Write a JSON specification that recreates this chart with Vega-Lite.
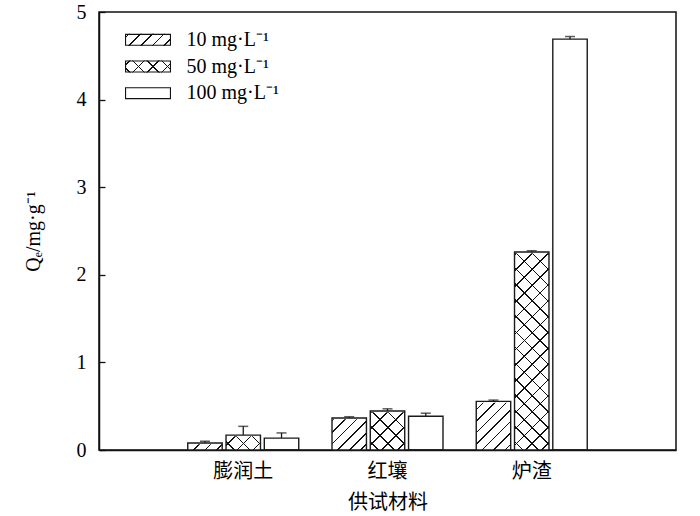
{
  "$schema": "https://vega.github.io/schema/vega-lite/v6.json",
  "autosize": {"type": "none"},
  "padding": {"left": 99, "top": 12, "right": 24, "bottom": 66},
  "width": 577,
  "height": 438,
  "background": "#ffffff",
  "config": {
    "font": "Liberation Serif, Noto Sans CJK SC",
    "view": {"stroke": "#111", "strokeWidth": 1.5},
    "axis": {"grid": false, "domainColor": "#111", "domainWidth": 1.5, "tickColor": "#111", "labelColor": "#000", "titleColor": "#000", "labelFont": "Liberation Serif, Noto Sans CJK SC", "titleFont": "Liberation Serif, Noto Sans CJK SC", "titleFontWeight": "normal"},
    "legend": {"title": null, "orient": "none", "legendX": 25.5, "padding": 0, "symbolType": "M-1,-0.26H1V0.26H-1Z", "symbolSize": 2116, "symbolStrokeWidth": 1, "labelFont": "Liberation Serif", "labelFontSize": 20, "labelColor": "#000", "labelOffset": 15}
  },
  "data": {
    "values": [
      {"material": "膨润土", "conc": "10 mg·L⁻¹", "value": 0.08, "upper": 0.1},
      {"material": "膨润土", "conc": "50 mg·L⁻¹", "value": 0.17, "upper": 0.27},
      {"material": "膨润土", "conc": "100 mg·L⁻¹", "value": 0.135, "upper": 0.195},
      {"material": "红壤", "conc": "10 mg·L⁻¹", "value": 0.365, "upper": 0.38},
      {"material": "红壤", "conc": "50 mg·L⁻¹", "value": 0.445, "upper": 0.47},
      {"material": "红壤", "conc": "100 mg·L⁻¹", "value": 0.385, "upper": 0.42},
      {"material": "炉渣", "conc": "10 mg·L⁻¹", "value": 0.555, "upper": 0.57},
      {"material": "炉渣", "conc": "50 mg·L⁻¹", "value": 2.26, "upper": 2.275},
      {"material": "炉渣", "conc": "100 mg·L⁻¹", "value": 4.69, "upper": 4.72}
    ]
  },
  "encoding": {
    "x": {
      "field": "material", "type": "nominal",
      "scale": {"domain": ["膨润土", "红壤", "炉渣"], "paddingInner": 0.2305, "paddingOuter": 0.6153},
      "axis": {"title": "供试材料", "labelAngle": 0, "ticks": false, "labelFontSize": 20, "titleFontSize": 20, "labelPadding": 11, "titlePadding": 11}
    },
    "xOffset": {
      "field": "conc", "type": "nominal",
      "scale": {"domain": ["10 mg·L⁻¹", "50 mg·L⁻¹", "100 mg·L⁻¹"], "paddingInner": 0.1, "paddingOuter": 0}
    }
  },
  "layer": [
    {
      "transform": [{"filter": "datum.conc === '10 mg·L⁻¹'"}],
      "mark": {"type": "bar", "fill": {"gradient": "linear", "x1": 0, "y1": 0, "x2": 0.1777, "y2": 1.1294, "stops": [
        {"offset": 0, "color": "#fff"},
        {"offset": 0.02, "color": "#fff"}, {"offset": 0.02, "color": "#111"}, {"offset": 0.026, "color": "#111"}, {"offset": 0.026, "color": "#fff"},
        {"offset": 0.0655, "color": "#fff"}, {"offset": 0.0655, "color": "#111"}, {"offset": 0.0715, "color": "#111"}, {"offset": 0.0715, "color": "#fff"},
        {"offset": 0.1109, "color": "#fff"}, {"offset": 0.1109, "color": "#111"}, {"offset": 0.1169, "color": "#111"}, {"offset": 0.1169, "color": "#fff"},
        {"offset": 0.1564, "color": "#fff"}, {"offset": 0.1564, "color": "#111"}, {"offset": 0.1624, "color": "#111"}, {"offset": 0.1624, "color": "#fff"},
        {"offset": 0.2018, "color": "#fff"}, {"offset": 0.2018, "color": "#111"}, {"offset": 0.2078, "color": "#111"}, {"offset": 0.2078, "color": "#fff"},
        {"offset": 0.2473, "color": "#fff"}, {"offset": 0.2473, "color": "#111"}, {"offset": 0.2533, "color": "#111"}, {"offset": 0.2533, "color": "#fff"},
        {"offset": 0.2927, "color": "#fff"}, {"offset": 0.2927, "color": "#111"}, {"offset": 0.2987, "color": "#111"}, {"offset": 0.2987, "color": "#fff"},
        {"offset": 0.3382, "color": "#fff"}, {"offset": 0.3382, "color": "#111"}, {"offset": 0.3442, "color": "#111"}, {"offset": 0.3442, "color": "#fff"},
        {"offset": 0.3836, "color": "#fff"}, {"offset": 0.3836, "color": "#111"}, {"offset": 0.3896, "color": "#111"}, {"offset": 0.3896, "color": "#fff"},
        {"offset": 0.4291, "color": "#fff"}, {"offset": 0.4291, "color": "#111"}, {"offset": 0.4351, "color": "#111"}, {"offset": 0.4351, "color": "#fff"},
        {"offset": 0.4745, "color": "#fff"}, {"offset": 0.4745, "color": "#111"}, {"offset": 0.4805, "color": "#111"}, {"offset": 0.4805, "color": "#fff"},
        {"offset": 0.52, "color": "#fff"}, {"offset": 0.52, "color": "#111"}, {"offset": 0.526, "color": "#111"}, {"offset": 0.526, "color": "#fff"},
        {"offset": 0.5655, "color": "#fff"}, {"offset": 0.5655, "color": "#111"}, {"offset": 0.5715, "color": "#111"}, {"offset": 0.5715, "color": "#fff"},
        {"offset": 0.6109, "color": "#fff"}, {"offset": 0.6109, "color": "#111"}, {"offset": 0.6169, "color": "#111"}, {"offset": 0.6169, "color": "#fff"},
        {"offset": 0.6564, "color": "#fff"}, {"offset": 0.6564, "color": "#111"}, {"offset": 0.6624, "color": "#111"}, {"offset": 0.6624, "color": "#fff"},
        {"offset": 0.7018, "color": "#fff"}, {"offset": 0.7018, "color": "#111"}, {"offset": 0.7078, "color": "#111"}, {"offset": 0.7078, "color": "#fff"},
        {"offset": 0.7473, "color": "#fff"}, {"offset": 0.7473, "color": "#111"}, {"offset": 0.7533, "color": "#111"}, {"offset": 0.7533, "color": "#fff"},
        {"offset": 0.7927, "color": "#fff"}, {"offset": 0.7927, "color": "#111"}, {"offset": 0.7987, "color": "#111"}, {"offset": 0.7987, "color": "#fff"},
        {"offset": 0.8382, "color": "#fff"}, {"offset": 0.8382, "color": "#111"}, {"offset": 0.8442, "color": "#111"}, {"offset": 0.8442, "color": "#fff"},
        {"offset": 0.8836, "color": "#fff"}, {"offset": 0.8836, "color": "#111"}, {"offset": 0.8896, "color": "#111"}, {"offset": 0.8896, "color": "#fff"},
        {"offset": 0.9291, "color": "#fff"}, {"offset": 0.9291, "color": "#111"}, {"offset": 0.9351, "color": "#111"}, {"offset": 0.9351, "color": "#fff"},
        {"offset": 0.9745, "color": "#fff"}, {"offset": 0.9745, "color": "#111"}, {"offset": 0.9805, "color": "#111"}, {"offset": 0.9805, "color": "#fff"},
        {"offset": 1, "color": "#fff"}
      ]}},
      "encoding": {"y": {"datum": 2.5}, "y2": {"datum": 0}}
    },
    {
      "transform": [{"filter": "datum.conc === '50 mg·L⁻¹'"}],
      "mark": {"type": "bar", "fill": {"gradient": "linear", "x1": 0, "y1": 0, "x2": 0.1777, "y2": 1.1294, "stops": [
        {"offset": 0, "color": "#fff"},
        {"offset": 0.03, "color": "#fff"}, {"offset": 0.03, "color": "#111"}, {"offset": 0.036, "color": "#111"}, {"offset": 0.036, "color": "#fff"},
        {"offset": 0.0925, "color": "#fff"}, {"offset": 0.0925, "color": "#111"}, {"offset": 0.0985, "color": "#111"}, {"offset": 0.0985, "color": "#fff"},
        {"offset": 0.155, "color": "#fff"}, {"offset": 0.155, "color": "#111"}, {"offset": 0.161, "color": "#111"}, {"offset": 0.161, "color": "#fff"},
        {"offset": 0.2175, "color": "#fff"}, {"offset": 0.2175, "color": "#111"}, {"offset": 0.2235, "color": "#111"}, {"offset": 0.2235, "color": "#fff"},
        {"offset": 0.28, "color": "#fff"}, {"offset": 0.28, "color": "#111"}, {"offset": 0.286, "color": "#111"}, {"offset": 0.286, "color": "#fff"},
        {"offset": 0.3425, "color": "#fff"}, {"offset": 0.3425, "color": "#111"}, {"offset": 0.3485, "color": "#111"}, {"offset": 0.3485, "color": "#fff"},
        {"offset": 0.405, "color": "#fff"}, {"offset": 0.405, "color": "#111"}, {"offset": 0.411, "color": "#111"}, {"offset": 0.411, "color": "#fff"},
        {"offset": 0.4675, "color": "#fff"}, {"offset": 0.4675, "color": "#111"}, {"offset": 0.4735, "color": "#111"}, {"offset": 0.4735, "color": "#fff"},
        {"offset": 0.53, "color": "#fff"}, {"offset": 0.53, "color": "#111"}, {"offset": 0.536, "color": "#111"}, {"offset": 0.536, "color": "#fff"},
        {"offset": 0.5925, "color": "#fff"}, {"offset": 0.5925, "color": "#111"}, {"offset": 0.5985, "color": "#111"}, {"offset": 0.5985, "color": "#fff"},
        {"offset": 0.655, "color": "#fff"}, {"offset": 0.655, "color": "#111"}, {"offset": 0.661, "color": "#111"}, {"offset": 0.661, "color": "#fff"},
        {"offset": 0.7175, "color": "#fff"}, {"offset": 0.7175, "color": "#111"}, {"offset": 0.7235, "color": "#111"}, {"offset": 0.7235, "color": "#fff"},
        {"offset": 0.78, "color": "#fff"}, {"offset": 0.78, "color": "#111"}, {"offset": 0.786, "color": "#111"}, {"offset": 0.786, "color": "#fff"},
        {"offset": 0.8425, "color": "#fff"}, {"offset": 0.8425, "color": "#111"}, {"offset": 0.8485, "color": "#111"}, {"offset": 0.8485, "color": "#fff"},
        {"offset": 0.905, "color": "#fff"}, {"offset": 0.905, "color": "#111"}, {"offset": 0.911, "color": "#111"}, {"offset": 0.911, "color": "#fff"},
        {"offset": 0.9675, "color": "#fff"}, {"offset": 0.9675, "color": "#111"}, {"offset": 0.9735, "color": "#111"}, {"offset": 0.9735, "color": "#fff"},
        {"offset": 1, "color": "#fff"}
      ]}},
      "encoding": {"y": {"datum": 2.5}, "y2": {"datum": 0}}
    },
    {
      "transform": [{"filter": "datum.conc === '50 mg·L⁻¹'"}],
      "mark": {"type": "bar", "fill": {"gradient": "linear", "x1": 0, "y1": 1, "x2": 0.1777, "y2": -0.1294, "stops": [
        {"offset": 0, "color": "rgba(0,0,0,0)"},
        {"offset": 0.03, "color": "rgba(0,0,0,0)"}, {"offset": 0.03, "color": "#111"}, {"offset": 0.036, "color": "#111"}, {"offset": 0.036, "color": "rgba(0,0,0,0)"},
        {"offset": 0.0925, "color": "rgba(0,0,0,0)"}, {"offset": 0.0925, "color": "#111"}, {"offset": 0.0985, "color": "#111"}, {"offset": 0.0985, "color": "rgba(0,0,0,0)"},
        {"offset": 0.155, "color": "rgba(0,0,0,0)"}, {"offset": 0.155, "color": "#111"}, {"offset": 0.161, "color": "#111"}, {"offset": 0.161, "color": "rgba(0,0,0,0)"},
        {"offset": 0.2175, "color": "rgba(0,0,0,0)"}, {"offset": 0.2175, "color": "#111"}, {"offset": 0.2235, "color": "#111"}, {"offset": 0.2235, "color": "rgba(0,0,0,0)"},
        {"offset": 0.28, "color": "rgba(0,0,0,0)"}, {"offset": 0.28, "color": "#111"}, {"offset": 0.286, "color": "#111"}, {"offset": 0.286, "color": "rgba(0,0,0,0)"},
        {"offset": 0.3425, "color": "rgba(0,0,0,0)"}, {"offset": 0.3425, "color": "#111"}, {"offset": 0.3485, "color": "#111"}, {"offset": 0.3485, "color": "rgba(0,0,0,0)"},
        {"offset": 0.405, "color": "rgba(0,0,0,0)"}, {"offset": 0.405, "color": "#111"}, {"offset": 0.411, "color": "#111"}, {"offset": 0.411, "color": "rgba(0,0,0,0)"},
        {"offset": 0.4675, "color": "rgba(0,0,0,0)"}, {"offset": 0.4675, "color": "#111"}, {"offset": 0.4735, "color": "#111"}, {"offset": 0.4735, "color": "rgba(0,0,0,0)"},
        {"offset": 0.53, "color": "rgba(0,0,0,0)"}, {"offset": 0.53, "color": "#111"}, {"offset": 0.536, "color": "#111"}, {"offset": 0.536, "color": "rgba(0,0,0,0)"},
        {"offset": 0.5925, "color": "rgba(0,0,0,0)"}, {"offset": 0.5925, "color": "#111"}, {"offset": 0.5985, "color": "#111"}, {"offset": 0.5985, "color": "rgba(0,0,0,0)"},
        {"offset": 0.655, "color": "rgba(0,0,0,0)"}, {"offset": 0.655, "color": "#111"}, {"offset": 0.661, "color": "#111"}, {"offset": 0.661, "color": "rgba(0,0,0,0)"},
        {"offset": 0.7175, "color": "rgba(0,0,0,0)"}, {"offset": 0.7175, "color": "#111"}, {"offset": 0.7235, "color": "#111"}, {"offset": 0.7235, "color": "rgba(0,0,0,0)"},
        {"offset": 0.78, "color": "rgba(0,0,0,0)"}, {"offset": 0.78, "color": "#111"}, {"offset": 0.786, "color": "#111"}, {"offset": 0.786, "color": "rgba(0,0,0,0)"},
        {"offset": 0.8425, "color": "rgba(0,0,0,0)"}, {"offset": 0.8425, "color": "#111"}, {"offset": 0.8485, "color": "#111"}, {"offset": 0.8485, "color": "rgba(0,0,0,0)"},
        {"offset": 0.905, "color": "rgba(0,0,0,0)"}, {"offset": 0.905, "color": "#111"}, {"offset": 0.911, "color": "#111"}, {"offset": 0.911, "color": "rgba(0,0,0,0)"},
        {"offset": 0.9675, "color": "rgba(0,0,0,0)"}, {"offset": 0.9675, "color": "#111"}, {"offset": 0.9735, "color": "#111"}, {"offset": 0.9735, "color": "rgba(0,0,0,0)"},
        {"offset": 1, "color": "rgba(0,0,0,0)"}
      ]}},
      "encoding": {"y": {"datum": 2.5}, "y2": {"datum": 0}}
    },
    {
      "transform": [{"filter": "datum.value < 2.5"}],
      "mark": {"type": "bar", "fill": "#fff", "stroke": "#fff", "strokeWidth": 2.5},
      "encoding": {"y": {"field": "value", "type": "quantitative"}, "y2": {"datum": 2.5}}
    },
    {
      "mark": {"type": "bar", "fill": "rgba(255,255,255,0)", "stroke": "#1a1a1a", "strokeWidth": 1.4},
      "encoding": {
        "y": {
          "field": "value", "type": "quantitative",
          "scale": {"domain": [0, 5], "nice": false, "zero": true},
          "axis": {"title": "Qₑ/mg·g⁻¹", "values": [0, 1, 2, 3, 4, 5], "format": "d", "tickSize": -6, "tickWidth": 1.3, "labelPadding": 19, "labelFontSize": 20, "titleFontSize": 20, "titlePadding": 33}
        },
        "y2": {"datum": 0}
      }
    },
    {
      "mark": {"type": "rule", "stroke": "#1a1a1a", "strokeWidth": 1.3},
      "encoding": {"y": {"field": "value", "type": "quantitative"}, "y2": {"field": "upper"}}
    },
    {
      "mark": {"type": "tick", "color": "#1a1a1a", "thickness": 1.5, "size": 10, "orient": "horizontal"},
      "encoding": {"y": {"field": "upper", "type": "quantitative"}}
    },
    {
      "transform": [{"filter": "datum.conc === '10 mg·L⁻¹'"}],
      "mark": {"type": "bar", "fill": {"gradient": "linear", "x1": 0, "y1": 0, "x2": 1.1805, "y2": 0.308, "stops": [
        {"offset": 0, "color": "#fff"},
        {"offset": 0.06, "color": "#fff"}, {"offset": 0.06, "color": "#111"}, {"offset": 0.087, "color": "#111"}, {"offset": 0.087, "color": "#fff"},
        {"offset": 0.26, "color": "#fff"}, {"offset": 0.26, "color": "#111"}, {"offset": 0.287, "color": "#111"}, {"offset": 0.287, "color": "#fff"},
        {"offset": 0.46, "color": "#fff"}, {"offset": 0.46, "color": "#111"}, {"offset": 0.487, "color": "#111"}, {"offset": 0.487, "color": "#fff"},
        {"offset": 0.66, "color": "#fff"}, {"offset": 0.66, "color": "#111"}, {"offset": 0.687, "color": "#111"}, {"offset": 0.687, "color": "#fff"},
        {"offset": 0.86, "color": "#fff"}, {"offset": 0.86, "color": "#111"}, {"offset": 0.887, "color": "#111"}, {"offset": 0.887, "color": "#fff"},
        {"offset": 1, "color": "#fff"}
      ]}},
      "encoding": {
        "y": {"datum": 0}, "y2": {"datum": 0},
        "strokeDash": {"field": "conc", "type": "nominal", "legend": {"legendY": 4.3, "zindex": 1}}
      }
    },
    {
      "transform": [{"filter": "datum.conc === '50 mg·L⁻¹'"}],
      "mark": {"type": "bar", "fill": {"gradient": "linear", "x1": 0, "y1": 0, "x2": 1.1805, "y2": 0.308, "stops": [
        {"offset": 0, "color": "#fff"},
        {"offset": 0.07, "color": "#fff"}, {"offset": 0.07, "color": "#111"}, {"offset": 0.097, "color": "#111"}, {"offset": 0.097, "color": "#fff"},
        {"offset": 0.32, "color": "#fff"}, {"offset": 0.32, "color": "#111"}, {"offset": 0.347, "color": "#111"}, {"offset": 0.347, "color": "#fff"},
        {"offset": 0.57, "color": "#fff"}, {"offset": 0.57, "color": "#111"}, {"offset": 0.597, "color": "#111"}, {"offset": 0.597, "color": "#fff"},
        {"offset": 0.82, "color": "#fff"}, {"offset": 0.82, "color": "#111"}, {"offset": 0.847, "color": "#111"}, {"offset": 0.847, "color": "#fff"},
        {"offset": 1, "color": "#fff"}
      ]}},
      "encoding": {
        "y": {"datum": 0}, "y2": {"datum": 0},
        "opacity": {"field": "conc", "type": "nominal", "scale": {"range": [1, 1]}, "legend": {"legendY": 31, "zindex": 1}}
      }
    },
    {
      "transform": [{"filter": "indexof(datum.conc, '50 mg') === 0"}],
      "mark": {"type": "bar", "fill": {"gradient": "linear", "x1": 0, "y1": 1, "x2": 1.1805, "y2": 0.692, "stops": [
        {"offset": 0, "color": "rgba(0,0,0,0)"},
        {"offset": 0.07, "color": "rgba(0,0,0,0)"}, {"offset": 0.07, "color": "#111"}, {"offset": 0.097, "color": "#111"}, {"offset": 0.097, "color": "rgba(0,0,0,0)"},
        {"offset": 0.32, "color": "rgba(0,0,0,0)"}, {"offset": 0.32, "color": "#111"}, {"offset": 0.347, "color": "#111"}, {"offset": 0.347, "color": "rgba(0,0,0,0)"},
        {"offset": 0.57, "color": "rgba(0,0,0,0)"}, {"offset": 0.57, "color": "#111"}, {"offset": 0.597, "color": "#111"}, {"offset": 0.597, "color": "rgba(0,0,0,0)"},
        {"offset": 0.82, "color": "rgba(0,0,0,0)"}, {"offset": 0.82, "color": "#111"}, {"offset": 0.847, "color": "#111"}, {"offset": 0.847, "color": "rgba(0,0,0,0)"},
        {"offset": 1, "color": "rgba(0,0,0,0)"}
      ]}},
      "encoding": {
        "y": {"datum": 0}, "y2": {"datum": 0},
        "stroke": {"field": "conc", "type": "nominal", "scale": {"range": ["rgba(0,0,0,0)", "rgba(0,0,0,0)"]}, "legend": {"legendY": 31, "zindex": 2, "labelExpr": "' '"}}
      }
    },
    {
      "transform": [{"filter": "datum.conc === '100 mg·L⁻¹'"}],
      "mark": {"type": "bar", "fill": "#fff"},
      "encoding": {
        "y": {"datum": 0}, "y2": {"datum": 0},
        "strokeWidth": {"field": "conc", "type": "nominal", "scale": {"range": [1, 1]}, "legend": {"legendY": 57.7, "zindex": 1}}
      }
    },
    {
      "transform": [{"filter": "datum.conc == '10 mg·L⁻¹'"}],
      "mark": {"type": "bar"},
      "encoding": {
        "y": {"datum": 0}, "y2": {"datum": 0},
        "fill": {"field": "conc", "type": "nominal", "scale": {"range": ["#111", "#111"]}, "legend": {"legendY": 4.3, "zindex": 3, "labelExpr": "' '", "symbolType": "M-1,-0.26H1V0.26H-1ZM-0.952,-0.212V0.212H0.952V-0.212Z"}}
      }
    },
    {
      "transform": [{"filter": "datum.conc == '50 mg·L⁻¹'"}],
      "mark": {"type": "bar"},
      "encoding": {
        "y": {"datum": 0}, "y2": {"datum": 0},
        "color": {"field": "conc", "type": "nominal", "scale": {"range": ["#111", "#111"]}, "legend": {"legendY": 31, "zindex": 3, "labelExpr": "' '", "symbolType": "M-1,-0.26H1V0.26H-1ZM-0.952,-0.212V0.212H0.952V-0.212Z"}}
      }
    },
    {
      "transform": [{"filter": "datum.conc == '100 mg·L⁻¹'"}],
      "mark": {"type": "bar", "fill": "#111"},
      "encoding": {
        "y": {"datum": 0}, "y2": {"datum": 0},
        "size": {"field": "conc", "type": "nominal", "scale": {"range": [2116, 2116]}, "legend": {"legendY": 57.7, "zindex": 3, "labelExpr": "' '", "symbolType": "M-1,-0.26H1V0.26H-1ZM-0.952,-0.212V0.212H0.952V-0.212Z"}}
      }
    }
  ]
}
